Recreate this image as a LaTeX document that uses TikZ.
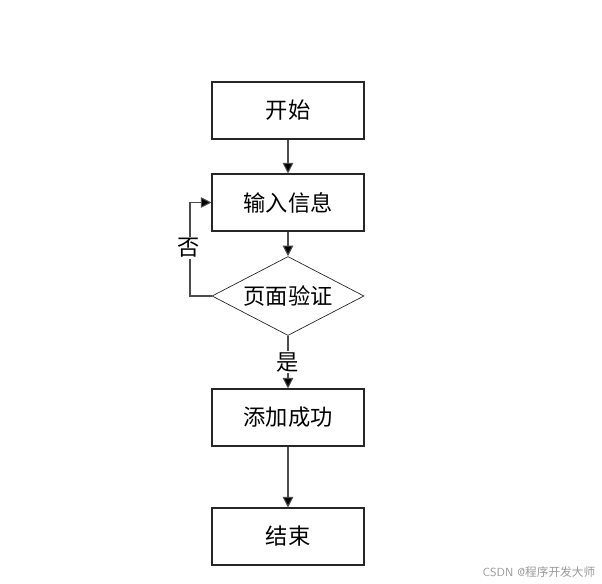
\documentclass[tikz,border=0pt]{standalone}
\usepackage{fontspec}
\newfontfamily\cjk{Noto Sans CJK SC}
\usetikzlibrary{shapes.geometric,arrows.meta}
\tikzset{
  stepbox/.style={draw=black!85, line width=0.9pt, minimum width=4.56cm, minimum height=1.71cm, inner sep=0pt, font=\cjk\fontsize{19}{22}\selectfont},
  checkbox/.style={diamond, draw=black!85, line width=0.6pt, minimum width=4.56cm, minimum height=2.37cm, aspect=1.92, inner sep=0pt, font=\cjk\fontsize{19}{22}\selectfont},
  flow/.style={draw=black!70, line width=0.9pt, -{Triangle[length=9pt,width=9pt,fill=black]}},
  tag/.style={fill=white, inner sep=1pt, font=\cjk\fontsize{19}{22}\selectfont}
}
\begin{document}
\begin{tikzpicture}[x=0.03cm, y=-0.03cm]
    \useasboundingbox (0,0) rectangle (602,584);
    \node[stepbox] (start) at (288,110.5) {开始};
    \node[stepbox] (input) at (288,202.5) {输入信息};
    \node[checkbox] (check) at (288,296) {页面验证};
    \node[stepbox] (add) at (288,417.5) {添加成功};
    \node[stepbox] (stop) at (288,536.5) {结束};
    \draw[flow] (start) -- (input);
    \draw[flow] (input) -- (check);
    \draw[flow] (check) -- node[tag] (yes) {是} (add);
    \draw[flow] (add) -- (stop);
    \coordinate (back) at (190,296);
    \draw[flow] (check.west) -- (back) -- (back |- input.west) -- (input.west);
    \node[tag] (no) at (189,248) {否};
    \node[text=black!40, font=\sffamily\fontsize{10}{11}\selectfont] (mark) at (539,572) {CSDN @{\cjk 程序开发大师}};
\end{tikzpicture}
\end{document}
